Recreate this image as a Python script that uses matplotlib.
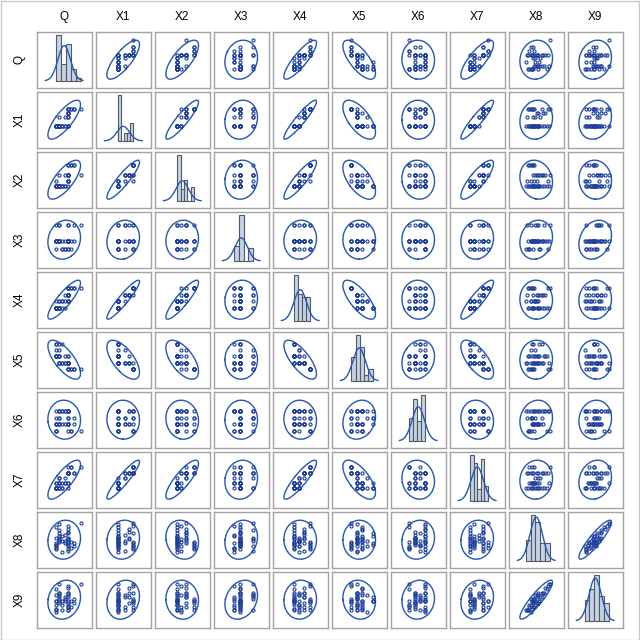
import numpy as np
import matplotlib
matplotlib.use("Agg")
import matplotlib.pyplot as plt
from matplotlib.patches import Rectangle

# ---- data (40 observations) ----
names = ["Q", "X1", "X2", "X3", "X4", "X5", "X6", "X7", "X8", "X9"]

Q = [1.0, 1.5, 1.0, 2.0, 1.5, 1.0, 1.5, 2.0, 1.0, 1.5, 1.0, 1.0, 1.5, 2.5, 1.0, 3.0, 1.5, 1.0, 1.5, 2.0,
     3.0, 2.5, 3.0, 3.0, 1.5, 3.0, 3.0, 3.0, 3.5, 3.0, 3.0, 2.5, 3.0, 3.5, 3.0, 4.0, 3.0, 4.0, 5.0, 3.0]
X1 = [1, 1, 1, 1, 1, 1, 1, 1, 1, 1, 1, 1, 1, 1, 1, 1, 1, 1, 3, 1,
      1, 3, 1, 3, 1, 4, 3, 4, 5, 4, 5, 1, 5, 5, 4, 5, 5, 5, 5, 5]
X2 = [1, 1, 1, 1, 1, 1, 1, 1, 1, 1, 2, 1, 1, 1, 1, 2, 1, 1, 3, 1,
      1, 3, 2, 2, 1, 3, 3, 3, 5, 3, 5, 1, 2, 5, 3, 5, 3, 5, 3, 5]
X3 = [2, 2, 1, 2, 4, 2, 2, 1, 2, 2, 2, 4, 2, 1, 2, 2, 2, 2, 4, 1,
      2, 1, 2, 4, 2, 2, 2, 4, 1, 2, 2, 2, 1, 2, 2, 4, 2, 2, 4, 1]
X4 = [1, 1, 1, 2, 1, 1, 1, 2, 1, 1, 2, 1, 1, 1, 1, 2, 1, 1, 2, 1,
      2, 3, 2, 3, 2, 3, 3, 3, 4, 3, 4, 2, 4, 4, 3, 4, 3, 4, 4, 4]
X5 = [5, 3, 3, 2, 3, 5, 3, 2, 3, 2, 4, 3, 5, 2, 3, 2, 2, 3, 4, 5,
      2, 2, 3, 2, 2, 3, 2, 2, 1, 2, 1, 3, 1, 1, 2, 1, 2, 1, 1, 1]
X6 = [2, 4, 1, 2, 4, 3, 2, 4, 1, 2, 4, 2, 3, 4, 1, 2, 4, 2, 3, 4,
      1, 2, 4, 3, 2, 4, 2, 4, 1, 2, 3, 4, 4, 1, 2, 3, 4, 2, 1, 4]
X7 = [1, 1, 2, 1, 1, 1, 2, 1, 1, 2, 1, 1, 1, 2, 1, 1, 2, 2, 3, 2,
      2, 3, 2, 4, 3, 4, 4, 4, 5, 4, 5, 2, 4, 5, 4, 4, 4, 4, 5, 4]
X8 = [16, 21, 13, 18, 25, 15, 19, 10, 27, 17, 14, 20, 23, 16, 12, 19, 29, 15, 18, 21,
      14, 22, 17, 11, 20, 26, 16, 19, 13, 24, 15, 18, 28, 17, 20, 14, 23, 16, 30, 12]
X9 = [18, 18, 16, 16, 22, 18, 17, 13, 24, 19, 12, 21, 20, 19, 13, 21, 27, 14, 21, 18,
      16, 20, 15, 13, 22, 25, 15, 20, 15, 22, 18, 18, 26, 18, 17, 19, 22, 17, 27, 13]

hist_bins = [5, 5, 5, 4, 4, 5, 4, 5, 5, 5]

# ---- style ----
marker_color = "#1d3f9c"
fit_color = "#2456b4"
bar_fill = "#c5d2e3"
bar_edge = "#505a66"
frame_color = "#a3a3a3"
c_pred = 2.61   # 95% prediction ellipse radius
x_half = 4.4    # axis half widths in sd units
y_half = 3.75
font = "Liberation Sans"

data = np.array([Q, X1, X2, X3, X4, X5, X6, X7, X8, X9], dtype=float)
n = data.shape[1]
means = data.mean(axis=1)
sds = data.std(axis=1, ddof=1)

fig = plt.figure(figsize=(6.4, 6.4), dpi=100)
W = 640.0
cw, ch = 55.0, 56.0
t = np.linspace(0, 2 * np.pi, 200)

for r in range(10):
    for c in range(10):
        left = (36.7 + 59 * c) / W
        bottom = 1 - (31.7 + 60 * r + ch) / W
        ax = fig.add_axes([left, bottom, cw / W, ch / W])
        ax.set_xticks([])
        ax.set_yticks([])
        for sp in ax.spines.values():
            sp.set_color(frame_color)
            sp.set_linewidth(1.0)
        xv = data[c]
        ax.set_xlim(means[c] - x_half * sds[c], means[c] + x_half * sds[c])
        if r == c:
            counts, edges = np.histogram(xv, bins=hist_bins[c])
            ax.bar(edges[:-1], counts, width=np.diff(edges), align="edge",
                   color=bar_fill, edgecolor=bar_edge, linewidth=0.8)
            bw = edges[1] - edges[0]
            xs = np.linspace(means[c] - 3 * sds[c], means[c] + 3 * sds[c], 200)
            ys = n * bw * np.exp(-0.5 * ((xs - means[c]) / sds[c]) ** 2) / (sds[c] * np.sqrt(2 * np.pi))
            ax.plot(xs, ys, color=fit_color, lw=1.0)
            M = counts.max()
            ax.set_ylim(-0.15 * M, 1.08 * M)
        else:
            yv = data[r]
            S = np.cov(xv, yv)
            vals, vecs = np.linalg.eigh(S)
            circ = np.vstack([np.cos(t), np.sin(t)])
            pts = vecs @ (np.sqrt(vals)[:, None] * circ) * c_pred
            ax.plot(means[c] + pts[0], means[r] + pts[1], color=fit_color, lw=1.0)
            ax.plot(xv, yv, "o", ms=2.2, mfc="none", mec=marker_color, mew=0.8)
            ax.set_ylim(means[r] - y_half * sds[r], means[r] + y_half * sds[r])

for k, name in enumerate(names):
    fig.text((36.7 + 59 * k + cw / 2) / W, 1 - 17 / W, name, ha="center", va="center",
             fontsize=8.5, family=font)
    fig.text(20 / W, 1 - (31.7 + 60 * k + ch / 2) / W, name, ha="center", va="center",
             rotation=90, fontsize=8.5, family=font)

fig.patches.append(Rectangle((0.5 / W, 0.5 / W), 1 - 1.5 / W, 1 - 1.5 / W, transform=fig.transFigure,
                             fill=False, ec="#c8c8c8", lw=1.0))

fig.savefig("out.png", dpi=100, facecolor="white")
